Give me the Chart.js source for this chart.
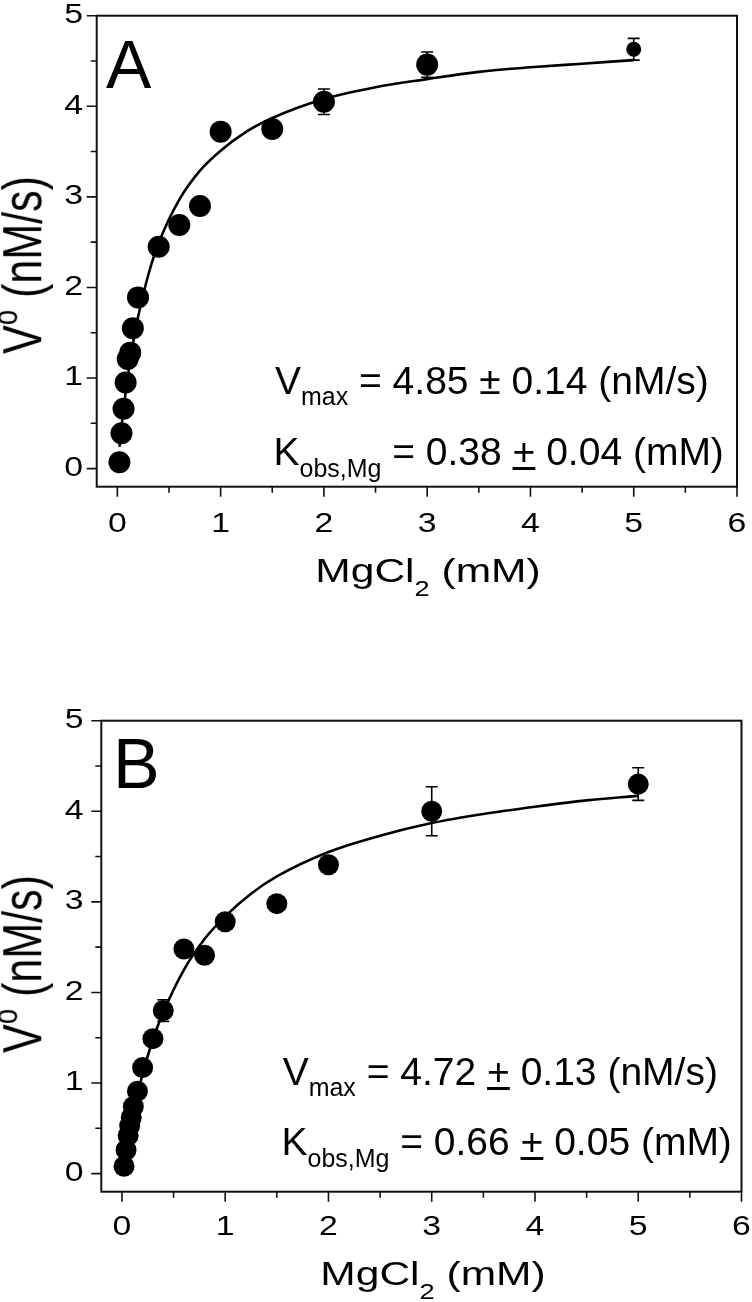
<!DOCTYPE html>
<html>
<head>
<meta charset="utf-8">
<script src="https://cdn.jsdelivr.net/npm/chart.js@4.4.1/dist/chart.umd.min.js"></script>
<style>
  body { margin: 0; background: #fff; }
  #page { position: relative; width: 752px; height: 1302px; overflow: hidden; font-family: 'Liberation Sans', Arial, sans-serif; color: #000; }
  .panel { position: absolute; left: 0; width: 752px; }
  .txt { position: absolute; white-space: nowrap; line-height: 1; }
  .sub { position: relative; font-size: 0.64em; }
</style>
</head>
<body>
<div id="page">
  <div class="panel" style="top:0;height:640px"><canvas id="chartA"></canvas></div>
  <div class="panel" style="top:650px;height:652px"><canvas id="chartB"></canvas></div>
</div>
<script>
// tick labels
const xTicks = [0, 1, 2, 3, 4, 5, 6];
const yTicks = [0, 1, 2, 3, 4, 5];

// panel A: measured rates
const concA = [0.02, 0.04, 0.06, 0.08, 0.10, 0.125, 0.15, 0.2, 0.4, 0.6, 0.8, 1.0, 1.5, 2.0, 3.0, 5.0];
const rateA = [0.07, 0.39, 0.66, 0.95, 1.21, 1.28, 1.55, 1.89, 2.45, 2.69, 2.90, 3.72, 3.75, 4.05, 4.46, 4.63];
const errA  = [0, 0, 0, 0, 0, 0, 0, 0, 0, 0, 0, 0, 0, 0.14, 0.14, 0.12];
// panel A: fitted curve
const fitConcA = [0.02, 0.05, 0.1, 0.15, 0.2, 0.3, 0.4, 0.6, 0.8, 1.0, 1.25, 1.5, 2.0, 2.5, 3.0, 3.5, 4.0, 4.5, 5.0];
const fitRateA = [0.24, 0.56, 1.01, 1.37, 1.67, 2.14, 2.49, 2.97, 3.29, 3.51, 3.72, 3.87, 4.08, 4.21, 4.30, 4.38, 4.43, 4.47, 4.51];

// panel B: measured rates
const concB = [0.02, 0.04, 0.06, 0.075, 0.09, 0.11, 0.15, 0.2, 0.3, 0.4, 0.6, 0.8, 1.0, 1.5, 2.0, 3.0, 5.0];
const rateB = [0.08, 0.26, 0.42, 0.53, 0.62, 0.74, 0.91, 1.17, 1.49, 1.80, 2.48, 2.41, 2.78, 2.98, 3.41, 4.00, 4.30];
const errB  = [0, 0, 0, 0, 0, 0, 0, 0, 0, 0.12, 0, 0, 0, 0, 0, 0.27, 0.18];
// panel B: fitted curve
const fitConcB = [0.02, 0.05, 0.1, 0.15, 0.2, 0.3, 0.4, 0.6, 0.8, 1.0, 1.25, 1.5, 2.0, 2.5, 3.0, 3.5, 4.0, 4.5, 5.0];
const fitRateB = [0.14, 0.33, 0.62, 0.87, 1.10, 1.48, 1.78, 2.25, 2.59, 2.84, 3.09, 3.28, 3.55, 3.73, 3.87, 3.97, 4.05, 4.12, 4.17];

const FONT = "'Liberation Sans', Arial, sans-serif";

// box around the plot, major / minor ticks and the (slightly wide) tick labels
const frame = {
  id: 'frame',
  afterDraw(chart, args, opts) {
    const { ctx, chartArea: a, scales: { x, y } } = chart;
    ctx.save();
    ctx.strokeStyle = '#111';
    ctx.lineWidth = 2;
    ctx.strokeRect(a.left, a.top, a.right - a.left, a.bottom - a.top);
    ctx.lineWidth = 1.6;
    ctx.beginPath();
    xTicks.forEach((v, i) => {
      const px = x.getPixelForValue(v);
      ctx.moveTo(px, a.bottom); ctx.lineTo(px, a.bottom + 10);
      if (i < xTicks.length - 1) {
        const mx = x.getPixelForValue((v + xTicks[i + 1]) / 2);
        ctx.moveTo(mx, a.bottom); ctx.lineTo(mx, a.bottom + 6);
      }
    });
    yTicks.forEach((v, i) => {
      const py = y.getPixelForValue(v);
      ctx.moveTo(a.left, py); ctx.lineTo(a.left - 10, py);
      if (i < yTicks.length - 1) {
        const my = y.getPixelForValue((v + yTicks[i + 1]) / 2);
        ctx.moveTo(a.left, my); ctx.lineTo(a.left - 6, my);
      }
    });
    ctx.stroke();

    ctx.fillStyle = '#000';
    ctx.font = '27px ' + FONT;
    x.ticks.forEach(t => {
      ctx.save();
      ctx.translate(x.getPixelForValue(t.value), a.bottom + opts.xLabelDrop);
      ctx.scale(1.25, 1);
      ctx.textAlign = 'center';
      ctx.textBaseline = 'alphabetic';
      ctx.fillText(String(t.value), 0, 0);
      ctx.restore();
    });
    y.ticks.forEach(t => {
      ctx.save();
      ctx.translate(opts.yLabelRight, y.getPixelForValue(t.value));
      ctx.scale(1.25, 1);
      ctx.textAlign = 'right';
      ctx.textBaseline = 'middle';
      ctx.fillText(String(t.value), 0, 0);
      ctx.restore();
    });
    ctx.restore();
  }
};

// vertical error bars with caps
const errorBars = {
  id: 'errorBars',
  afterDatasetsDraw(chart, args, opts) {
    const { ctx, scales: { x, y } } = chart;
    const pts = chart.data.datasets[opts.dataset].data;
    ctx.save();
    ctx.strokeStyle = '#000';
    ctx.lineWidth = 1.6;
    ctx.beginPath();
    pts.forEach((p, i) => {
      const e = opts.errors[i];
      if (!e) return;
      const px = x.getPixelForValue(p.x);
      const top = y.getPixelForValue(p.y + e);
      const bot = y.getPixelForValue(p.y - e);
      ctx.moveTo(px, top); ctx.lineTo(px, bot);
      ctx.moveTo(px - 6, top); ctx.lineTo(px + 6, top);
      ctx.moveTo(px - 6, bot); ctx.lineTo(px + 6, bot);
    });
    ctx.stroke();
    ctx.restore();
  }
};

function makeChart(id, box, conc, rate, err, fitConc, fitRate, radius) {
  const points = conc.map((c, i) => ({ x: c, y: rate[i] }));
  const fit = fitConc.map((c, i) => ({ x: c, y: fitRate[i] }));
  return new Chart(document.getElementById(id), {
    type: 'scatter',
    data: {
      datasets: [
        {
          data: points,
          backgroundColor: '#000',
          borderWidth: 0,
          pointRadius: radius,
          pointHoverRadius: radius
        },
        {
          type: 'line',
          data: fit,
          borderColor: '#000',
          borderWidth: 2.6,
          pointRadius: 0,
          fill: false,
          cubicInterpolationMode: 'monotone'
        }
      ]
    },
    options: {
      responsive: true,
      maintainAspectRatio: false,
      animation: false,
      events: [],
      layout: { padding: { top: box.top, right: box.right, left: 0, bottom: 0 } },
      plugins: {
        legend: { display: false },
        tooltip: { enabled: false },
        errorBars: { dataset: 0, errors: err },
        frame: { xLabelDrop: box.drop, yLabelRight: box.labelRight }
      },
      scales: {
        x: {
          type: 'linear',
          min: -0.2,
          max: 6,
          afterBuildTicks: s => { s.ticks = xTicks.map(v => ({ value: v })); },
          afterFit: s => { s.height = box.xh; },
          grid: { display: false, drawTicks: false },
          border: { display: false },
          ticks: { display: false }
        },
        y: {
          type: 'linear',
          min: -0.2,
          max: 5,
          afterBuildTicks: s => { s.ticks = yTicks.map(v => ({ value: v })); },
          afterFit: s => { s.width = box.left; },
          grid: { display: false, drawTicks: false },
          border: { display: false },
          ticks: { display: false }
        }
      }
    },
    plugins: [frame, errorBars]
  });
}

makeChart('chartA', { left: 96.7, top: 15.7, right: 15, xh: 153.3, drop: 45, labelRight: 83 },
  concA, rateA, errA, fitConcA, fitRateA, ctx => (ctx.dataIndex === concA.length - 1 ? 7.5 : 11));
makeChart('chartB', { left: 101.3, top: 70.7, right: 9.3, xh: 110.3, drop: 43.5, labelRight: 83.5 },
  concB, rateB, errB, fitConcB, fitRateB, 10.5);

// text: letters, fit results, axis titles
const page = document.getElementById('page');
function addText(html, left, baseline, size, extra) {
  const el = document.createElement('div');
  el.className = 'txt';
  el.innerHTML = html;
  el.style.fontSize = size + 'px';
  el.style.left = left + 'px';
  el.style.top = (baseline - 0.8465 * size) + 'px';
  if (extra) Object.assign(el.style, extra);
  page.appendChild(el);
  return el;
}
function xTitle(cx, baseline) {
  addText('MgCl<span class="sub" style="top:14px">2</span> (mM)', cx, baseline, 34,
    { transform: 'translateX(-50%) scaleX(1.25)' });
}
function yTitle(cx, cy) {
  const el = addText('V<span class="sub" style="top:-19px">o</span> (nM/s)', cx, 0, 43,
    { transform: 'translate(-50%, -50%) rotate(-90deg) scaleY(1.28)' });
  el.style.top = cy + 'px';
}

addText('A', 106, 87.3, 68);
addText('V<span class="sub" style="top:11px">max</span> = 4.85 ± 0.14 (nM/s)', 275, 394, 39);
addText('K<span class="sub" style="top:12px">obs,Mg</span> = 0.38 <u>+</u> 0.04 (mM)', 273.5, 465, 39);
xTitle(428, 582);
yTitle(23, 264.5);

addText('B', 113, 788.3, 70);
addText('V<span class="sub" style="top:11px">max</span> = 4.72 <u>+</u> 0.13 (nM/s)', 282.7, 1085, 39);
addText('K<span class="sub" style="top:12px">obs,Mg</span> = 0.66 <u>+</u> 0.05 (mM)', 281.5, 1155, 39);
xTitle(433, 1285);
yTitle(23, 964);
</script>
</body>
</html>
